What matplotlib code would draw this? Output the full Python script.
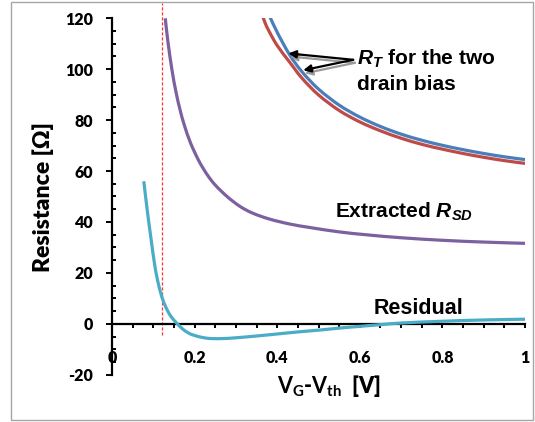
import matplotlib
matplotlib.use("Agg")
import matplotlib.pyplot as plt
from matplotlib.patches import Rectangle, PathPatch
from matplotlib.path import Path
from matplotlib.ticker import MultipleLocator

plt.rcParams["axes.unicode_minus"] = False
plt.rcParams["mathtext.fontset"] = "custom"
plt.rcParams["mathtext.rm"] = "Lato"
plt.rcParams["mathtext.bf"] = "Lato:bold"
plt.rcParams["mathtext.it"] = "Liberation Sans:italic:bold"
plt.rcParams["mathtext.bfit"] = "Liberation Sans:italic:bold"

# Total resistance R_T at the two drain biases
rt_x = [0.36, 0.37, 0.38, 0.40, 0.43, 0.46, 0.50, 0.55, 0.60, 0.65, 0.70, 0.75, 0.80, 0.85, 0.90, 0.95, 1.00]
rt_blue = [130.0, 125.5, 121.5, 114.5, 105.7, 99.0, 92.2, 85.9, 81.2, 77.5, 74.5, 72.1, 70.1, 68.4, 66.9, 65.6, 64.5]
rt_red = [123.0, 118.5, 115.0, 109.3, 102.8, 96.5, 89.9, 83.8, 79.3, 75.8, 72.9, 70.5, 68.6, 66.9, 65.4, 64.1, 63.0]

# Extracted source/drain resistance
rsd_x = [0.129, 0.135, 0.145, 0.155, 0.165, 0.175, 0.19, 0.21, 0.23, 0.25, 0.28, 0.31, 0.34,
         0.38, 0.43, 0.48, 0.55, 0.62, 0.70, 0.80, 0.90, 1.00]
rsd_y = [120, 111.3, 99.9, 91.0, 83.9, 78.1, 71.1, 64.1, 58.7, 54.5, 49.8, 46.1, 43.5,
         41.2, 39.2, 37.8, 36.1, 34.9, 33.8, 32.8, 32.1, 31.6]

# Fit residual
res_x = [0.077, 0.085, 0.094, 0.104, 0.114, 0.124, 0.135, 0.145, 0.157, 0.17, 0.185, 0.2, 0.22,
         0.24, 0.27, 0.3, 0.35, 0.4, 0.45, 0.5, 0.55, 0.6, 0.65, 0.7, 0.8, 0.9, 1.0]
res_y = [56, 45, 34, 22.5, 14.5, 9, 5, 2.4, 0.2, -1.9, -3.6, -4.6, -5.4,
         -5.8, -5.8, -5.5, -4.8, -4.0, -3.2, -2.5, -1.7, -1.0, -0.35, 0.3, 1.0, 1.5, 1.8]

vline_x = 0.12

x_ticks = [0, 0.2, 0.4, 0.6, 0.8, 1]
x_ticklabels = ["0", "0.2", "0.4", "0.6", "0.8", "1"]
y_ticks = [-20, 0, 20, 40, 60, 80, 100, 120]


def smooth_line(ax, xs, ys, **kw):
    """Draw a smoothed (Bezier) line through the given data points."""
    pts = list(zip(xs, ys))
    n = len(pts)
    verts = [pts[0]]
    codes = [Path.MOVETO]
    for i in range(n - 1):
        p0 = pts[i - 1] if i > 0 else pts[i]
        p1 = pts[i]
        p2 = pts[i + 1]
        p3 = pts[i + 2] if i + 2 < n else pts[i + 1]
        c1 = (p1[0] + (p2[0] - p0[0]) / 6, p1[1] + (p2[1] - p0[1]) / 6)
        c2 = (p2[0] - (p3[0] - p1[0]) / 6, p2[1] - (p3[1] - p1[1]) / 6)
        verts += [c1, c2, p2]
        codes += [Path.CURVE4] * 3
    patch = PathPatch(Path(verts, codes), fill=False, transform=ax.transData,
                      capstyle="butt", joinstyle="round", **kw)
    ax.add_patch(patch)
    return patch


W, H = 535, 422
fig = plt.figure(figsize=(W / 100, H / 100), dpi=100)
ax = fig.add_axes([112 / W, 1 - 374.7 / H, 413 / W, (374.7 - 18.3) / H])

# outer chart border
fig.patches.append(Rectangle((11 / W, 1 - 420 / H), (533 - 11) / W, (420 - 2) / H,
                             transform=fig.transFigure, fill=False,
                             edgecolor="#A6A6A6", linewidth=1.0, zorder=0))

lw = 2.3
smooth_line(ax, rt_x, rt_red, edgecolor="#BE4B48", lw=lw, zorder=3)
smooth_line(ax, rt_x, rt_blue, edgecolor="#4A7EBB", lw=lw, zorder=3)
smooth_line(ax, rsd_x, rsd_y, edgecolor="#7D60A0", lw=lw, zorder=3)
smooth_line(ax, res_x, res_y, edgecolor="#4BACC6", lw=lw, zorder=4)

ax.plot([vline_x, vline_x], [-4.3, 126], color="#FF3333", lw=0.9,
        dashes=(2.5, 1.5), clip_on=False, zorder=2)

ax.set_xlim(0, 1)
ax.set_ylim(-20, 120)

for s in ("top", "right"):
    ax.spines[s].set_visible(False)
ax.spines["left"].set_position(("data", 0))
ax.spines["bottom"].set_position(("data", 0))
for s in ("left", "bottom"):
    ax.spines[s].set_linewidth(1.6)
    ax.spines[s].set_zorder(3.5)

ax.set_xticks(x_ticks)
ax.set_xticklabels(x_ticklabels)
ax.xaxis.set_minor_locator(MultipleLocator(0.05))
ax.set_yticks(y_ticks)
ax.yaxis.set_minor_locator(MultipleLocator(5))

ax.tick_params(axis="x", which="both", direction="out", length=3.2, width=1.4, pad=15.5)
ax.tick_params(axis="y", which="major", direction="out", length=4.5, width=1.4, pad=9)
ax.tick_params(axis="y", which="minor", direction="in", length=3.2, width=1.4)
for lab in ax.get_xticklabels() + ax.get_yticklabels():
    lab.set_fontfamily("Lato")
    lab.set_fontweight("heavy")
    lab.set_fontsize(11.5)

fig.text(43 / W, 1 - 197 / H, "Resistance [Ω]", rotation=90, ha="center", va="center",
         fontfamily="Lato", fontweight="heavy", fontsize=16.5)
fig.text(329 / W, 1 - 386 / H, r"$\mathbf{V}_{\mathbf{G}}$-$\mathbf{V}_{\mathbf{th}}$  [V]",
         ha="center", va="center", fontfamily="Lato", fontweight="heavy", fontsize=15.5)

txt = dict(fontfamily="Liberation Sans", fontweight="bold", fontsize=15, color="black",
           ha="left", va="center")
fig.text(357 / W, 1 - 59 / H, r"$\mathbfit{R}_{\mathbfit{T}}$ for the two", **txt)
fig.text(357 / W, 1 - 85 / H, "drain bias", **txt)
fig.text(335 / W, 1 - 212 / H, r"Extracted $\mathbfit{R}_{\mathbfit{SD}}$", **txt)
fig.text(374 / W, 1 - 308 / H, "Residual", fontfamily="Liberation Sans", fontweight="bold",
         fontsize=15.5, color="black", ha="left", va="center")

tail = (0.584, 103.7)
for tip in [(0.427, 106.2), (0.463, 99.6)]:
    ax.annotate("", xy=(tip[0] + 0.004, tip[1] - 1.2), xytext=(tail[0] + 0.004, tail[1] - 1.2),
                arrowprops=dict(arrowstyle="-|>", color="#9A9A9A", lw=1.6,
                                mutation_scale=11, shrinkA=0, shrinkB=0), zorder=5)
    ax.annotate("", xy=tip, xytext=tail,
                arrowprops=dict(arrowstyle="-|>", color="black", lw=1.6,
                                mutation_scale=11, shrinkA=0, shrinkB=0), zorder=6)

fig.savefig("out.png", dpi=100)
